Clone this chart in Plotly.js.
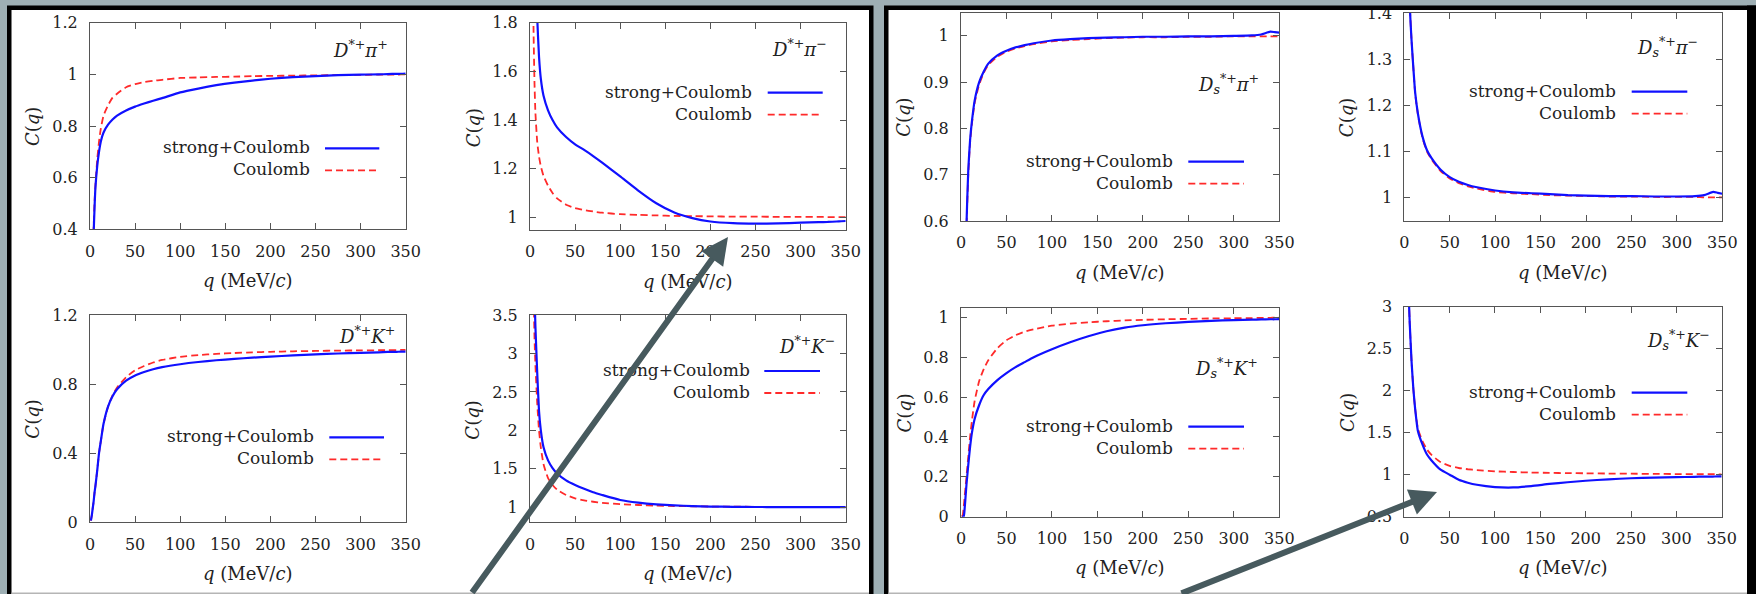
<!DOCTYPE html>
<html><head><meta charset="utf-8">
<script src="https://cdn.plot.ly/plotly-3.0.1.min.js"></script>
<style>
html,body{margin:0;padding:0;background:#9eafb4;}
#chart{width:1756px;height:594px;}
text{font-family:"DejaVu Serif", "Liberation Serif", serif !important;}
</style>
</head><body><div id="chart"></div>
<script>
// ---------- data ----------
const q = [1,2,3,4,5,6,8,10,12,15,20,25,30,40,50,60,70,80,100,120,140,160,180,200,225,250,275,300,320,330,340,345,350];

const xTicks = [0,50,100,150,200,250,300,350];
const xTitle = '<i>q</i> (MeV/<i>c</i>)';
const yTitle = '<i>C</i>(<i>q</i>)';
const seriesNames = ['strong+Coulomb', 'Coulomb'];
const channels = ['<i>D</i><sup>*+</sup><i>π</i><sup>+</sup>', '<i>D</i><sup>*+</sup><i>π</i><sup>−</sup>',
                  '<i>D</i><sup>*+</sup><i>K</i><sup>+</sup>', '<i>D</i><sup>*+</sup><i>K</i><sup>−</sup>',
                  '<i>D</i><sub><i>s</i></sub><sup>*+</sup><i>π</i><sup>+</sup>', '<i>D</i><sub><i>s</i></sub><sup>*+</sup><i>π</i><sup>−</sup>',
                  '<i>D</i><sub><i>s</i></sub><sup>*+</sup><i>K</i><sup>+</sup>', '<i>D</i><sub><i>s</i></sub><sup>*+</sup><i>K</i><sup>−</sup>'];

// D*+ pi+
const dPiPlusStrong = [0.0,0.05,0.25,0.38,0.48,0.56,0.645,0.70,0.74,0.775,0.805,0.825,0.84,0.86,0.875,0.887,0.898,0.908,0.93,0.945,0.958,0.968,0.976,0.983,0.989,0.993,0.997,0.999,1.0,1.001,1.002,1.002,1.003];
const dPiPlusCoul   = [0.0,0.05,0.25,0.40,0.50,0.57,0.67,0.74,0.79,0.84,0.88,0.91,0.925,0.95,0.962,0.97,0.975,0.979,0.986,0.988,0.99,0.991,0.993,0.994,0.995,0.996,0.997,0.998,0.999,0.999,0.999,1.0,1.0];
// D*+ pi-
const dPiMinusStrong = [4.0,3.5,3.0,2.6,2.3,2.05,1.82,1.66,1.57,1.50,1.44,1.40,1.37,1.33,1.30,1.277,1.252,1.225,1.168,1.11,1.058,1.02,0.997,0.983,0.976,0.974,0.975,0.978,0.98,0.981,0.983,0.984,0.985];
const dPiMinusCoul   = [4.5,2.8,2.1,1.75,1.55,1.43,1.31,1.25,1.21,1.17,1.13,1.10,1.078,1.052,1.038,1.03,1.024,1.019,1.013,1.01,1.008,1.006,1.005,1.004,1.003,1.003,1.002,1.002,1.002,1.001,1.001,1.001,1.001];
// D*+ K+
const dKPlusStrong = [0.01,0.04,0.08,0.12,0.17,0.21,0.30,0.40,0.47,0.57,0.67,0.73,0.77,0.82,0.85,0.87,0.886,0.898,0.915,0.928,0.938,0.946,0.953,0.959,0.966,0.972,0.977,0.981,0.984,0.986,0.987,0.988,0.988];
const dKPlusCoul   = [0.01,0.04,0.08,0.12,0.17,0.21,0.30,0.40,0.47,0.57,0.67,0.735,0.78,0.84,0.88,0.905,0.925,0.94,0.958,0.968,0.975,0.98,0.984,0.987,0.99,0.992,0.994,0.995,0.996,0.997,0.997,0.998,0.998];
// D*+ K-
const dKMinusStrong = [15,9,6,4.6,3.8,3.35,2.75,2.25,2.0,1.78,1.61,1.51,1.44,1.35,1.29,1.24,1.195,1.16,1.095,1.06,1.038,1.025,1.016,1.01,1.006,1.004,1.003,1.002,1.002,1.001,1.001,1.001,1.001];
const dKMinusCoul   = [15,8,5,3.8,3.2,2.85,2.35,2.0,1.78,1.56,1.38,1.29,1.23,1.16,1.117,1.09,1.072,1.058,1.04,1.03,1.022,1.017,1.013,1.01,1.008,1.006,1.005,1.004,1.004,1.003,1.003,1.003,1.003];
// Ds*+ pi+
const dsPiPlusStrong = [0.0,0.0,0.05,0.2,0.4,0.59,0.71,0.775,0.815,0.86,0.9,0.923,0.94,0.958,0.968,0.975,0.98,0.984,0.99,0.993,0.995,0.996,0.997,0.998,0.998,0.999,0.999,1.0,1.001,1.003,1.009,1.008,1.007];
const dsPiPlusCoul   = [0.0,0.0,0.05,0.2,0.4,0.58,0.70,0.77,0.81,0.855,0.895,0.92,0.937,0.955,0.966,0.973,0.978,0.982,0.988,0.991,0.993,0.995,0.996,0.997,0.997,0.998,0.998,0.999,0.999,0.999,0.999,0.999,0.999];
// Ds*+ pi-
const dsPiMinusStrong = [5,3,2.2,1.8,1.6,1.42,1.34,1.28,1.227,1.182,1.133,1.103,1.086,1.061,1.045,1.035,1.028,1.023,1.016,1.012,1.01,1.008,1.006,1.005,1.004,1.004,1.003,1.003,1.004,1.006,1.013,1.011,1.009];
const dsPiMinusCoul   = [5,3,2.2,1.8,1.6,1.42,1.34,1.28,1.225,1.18,1.13,1.10,1.083,1.058,1.042,1.032,1.025,1.02,1.013,1.01,1.008,1.006,1.005,1.004,1.003,1.003,1.002,1.002,1.002,1.001,1.001,1.001,1.001];
// Ds*+ K+
const dsKPlusStrong = [0,0,0,0.04,0.1,0.16,0.26,0.35,0.42,0.49,0.56,0.61,0.64,0.685,0.72,0.75,0.775,0.80,0.84,0.875,0.905,0.93,0.948,0.96,0.97,0.977,0.982,0.986,0.988,0.989,0.99,0.99,0.991];
const dsKPlusCoul   = [0,0.01,0.05,0.1,0.15,0.2,0.30,0.40,0.48,0.58,0.68,0.74,0.785,0.845,0.885,0.91,0.928,0.94,0.958,0.968,0.975,0.98,0.984,0.987,0.99,0.992,0.994,0.995,0.996,0.997,0.997,0.998,0.998];
// Ds*+ K-
const dsKMinusStrong = [12,7,4.5,3.6,3.1,2.8,2.35,2.02,1.78,1.52,1.36,1.24,1.17,1.06,1.0,0.94,0.905,0.88,0.853,0.848,0.865,0.89,0.91,0.928,0.945,0.958,0.965,0.971,0.975,0.977,0.978,0.979,0.98];
const dsKMinusCoul   = [12,7,4.5,3.6,3.1,2.8,2.35,2.02,1.78,1.55,1.40,1.30,1.235,1.15,1.105,1.08,1.065,1.055,1.04,1.032,1.026,1.022,1.019,1.017,1.014,1.012,1.01,1.008,1.007,1.006,1.006,1.005,1.005];

const strongSeries = [dPiPlusStrong, dPiMinusStrong, dKPlusStrong, dKMinusStrong, dsPiPlusStrong, dsPiMinusStrong, dsKPlusStrong, dsKMinusStrong];
const coulSeries   = [dPiPlusCoul, dPiMinusCoul, dKPlusCoul, dKMinusCoul, dsPiPlusCoul, dsPiMinusCoul, dsKPlusCoul, dsKMinusCoul];

// ---------- layout geometry (pixels) ----------
const W = 1756, H = 594;
const PX = v => v / W, PY = v => 1 - v / H;
const panels = [
  {x0:90,   x1:405.7,  y0:22.7,  y1:229.3, yr:[0.4,1.2],    dt:0.2, leg:[311.7,148.3,325,379.3], lab:[390,49]},
  {x0:530,  x1:845.7,  y0:22.7,  y1:230,   yr:[0.948,1.8],  dt:0.2, leg:[754,92.7,767.7,822.7],  lab:[829.3,48.3]},
  {x0:90,   x1:405.7,  y0:315,   y1:522.3, yr:[0,1.2],      dt:0.4, leg:[315.7,437.3,329.3,384], lab:[397.3,335]},
  {x0:530,  x1:845.7,  y0:315,   y1:522.3, yr:[0.805,3.5],  dt:0.5, leg:[751.7,371,764.3,820],   lab:[837.3,345]},
  {x0:961,  x1:1279.3, y0:12.7,  y1:221,   yr:[0.6,1.05],   dt:0.1, leg:[1175,161.7,1188.3,1244], lab:[1260.7,84]},
  {x0:1404.3,x1:1722.3,y0:12.7,  y1:221,   yr:[0.95,1.4005],dt:0.1, leg:[1618.3,91.7,1631.7,1687.3], lab:[1700,46.7]},
  {x0:961,  x1:1279.3, y0:308.3, y1:516.7, yr:[0,1.045],    dt:0.2, leg:[1175,426.7,1188.3,1244], lab:[1260,368]},
  {x0:1404.3,x1:1721.7,y0:306.7, y1:516.7, yr:[0.5,3.0005], dt:0.5, leg:[1618.3,392.7,1631.7,1687.3], lab:[1711.7,340]}
];

const FONT = '"DejaVu Serif", "Liberation Serif", serif';
const TXT = '#222';
const BLUE = '#1010ff', RED = '#ff2a2a';
const traces = [];
const layout = {
  width: W, height: H, margin: {l:0, r:0, t:0, b:0},
  paper_bgcolor: '#9eafb4', plot_bgcolor: 'white', showlegend: false,
  font: {family: FONT, size: 17, color: TXT},
  shapes: [], annotations: []
};

// panels background / borders
layout.shapes.push({type:'rect', xref:'paper', yref:'paper', layer:'below', x0:PX(9), x1:PX(871), y0:PY(8), y1:PY(620), fillcolor:'white', line:{width:0}});
layout.shapes.push({type:'rect', xref:'paper', yref:'paper', layer:'below', x0:PX(886), x1:PX(1752), y0:PY(8), y1:PY(620), fillcolor:'white', line:{width:0}});
layout.shapes.push({type:'rect', xref:'paper', yref:'paper', layer:'above', x0:PX(9.25), x1:PX(871.25), y0:PY(7.75), y1:PY(620), line:{color:'black', width:4.5}});
layout.shapes.push({type:'rect', xref:'paper', yref:'paper', layer:'above', x0:PX(886.25), x1:PX(1770), y0:PY(7.75), y1:PY(620), line:{color:'black', width:4.5}});
layout.shapes.push({type:'rect', xref:'paper', yref:'paper', layer:'above', x0:PX(1747), x1:PX(1760), y0:PY(5.5), y1:PY(620), fillcolor:'black', line:{width:0}});
layout.shapes.push({type:'line', xref:'paper', yref:'paper', layer:'above', x0:PX(11.5), x1:PX(869), y0:PY(593.2), y1:PY(593.2), line:{color:'#b5b5b5', width:1.5}});
layout.shapes.push({type:'line', xref:'paper', yref:'paper', layer:'above', x0:PX(888.5), x1:PX(1747), y0:PY(593.2), y1:PY(593.2), line:{color:'#b5b5b5', width:1.5}});

panels.forEach((p, i) => {
  const n = i === 0 ? '' : String(i + 1);
  const xa = 'x' + n, ya = 'y' + n;
  traces.push({x: q, y: coulSeries[i], xaxis: xa, yaxis: ya, type: 'scatter', mode: 'lines', name: seriesNames[1],
               line: {color: RED, width: 1.8, dash: '7px,4px', shape: 'spline', smoothing: 0.5}, hoverinfo: 'x+y'});
  traces.push({x: q, y: strongSeries[i], xaxis: xa, yaxis: ya, type: 'scatter', mode: 'lines', name: seriesNames[0],
               line: {color: BLUE, width: 2.2, shape: 'spline', smoothing: 0.5}, hoverinfo: 'x+y'});
  const common = {showline: true, linecolor: '#555', linewidth: 1, mirror: 'ticks', ticks: 'inside', ticklen: 6,
                  tickcolor: '#555', showgrid: false, zeroline: false, tickfont: {family: FONT, size: 16, color: TXT}};
  layout['xaxis' + n] = Object.assign({}, common, {
    domain: [PX(p.x0), PX(p.x1)], anchor: ya, range: [0, 350], tickvals: xTicks, ticklabelstandoff: 7
  });
  layout['yaxis' + n] = Object.assign({}, common, {
    domain: [PY(p.y1), PY(p.y0)], anchor: xa, range: p.yr, dtick: p.dt, tick0: 0, ticklabelstandoff: 8
  });
  // axis titles
  layout.annotations.push({xref:'paper', yref:'paper', x: PX((p.x0 + p.x1) / 2), y: PY(p.y1 + 51), xanchor:'center', yanchor:'middle',
                           showarrow:false, text: xTitle, font:{family: FONT, size: 18, color: TXT}});
  layout.annotations.push({xref:'paper', yref:'paper', x: PX(p.x0 - 57), y: PY((p.y0 + p.y1) / 2 + 1), xanchor:'center', yanchor:'middle',
                           showarrow:false, textangle: -90, text: yTitle, font:{family: FONT, size: 18, color: TXT}});
  // legend (text right-aligned, sample on the right)
  const [tx, ty, lx0, lx1] = p.leg;
  const y1 = ty - 1, y2 = ty + 21;
  layout.annotations.push({xref:'paper', yref:'paper', x: PX(tx), y: PY(y1), xanchor:'right', yanchor:'middle', showarrow:false,
                           text: seriesNames[0], font:{family: FONT, size: 17, color: TXT}});
  layout.annotations.push({xref:'paper', yref:'paper', x: PX(tx), y: PY(y2), xanchor:'right', yanchor:'middle', showarrow:false,
                           text: seriesNames[1], font:{family: FONT, size: 17, color: TXT}});
  layout.shapes.push({type:'line', xref:'paper', yref:'paper', x0: PX(lx0), x1: PX(lx1), y0: PY(y1 + 1), y1: PY(y1 + 1), line:{color: BLUE, width: 2.2}});
  layout.shapes.push({type:'line', xref:'paper', yref:'paper', x0: PX(lx0), x1: PX(lx1), y0: PY(y2 + 1), y1: PY(y2 + 1), line:{color: RED, width: 1.8, dash: '7px,4px'}});
  // channel label
  layout.annotations.push({xref:'paper', yref:'paper', x: PX(p.lab[0]), y: PY(p.lab[1]), xanchor:'right', yanchor:'middle', showarrow:false,
                           text: channels[i], font:{family: FONT, size: 18, color: TXT}});
});

// overlay arrows
const ARROW = '#475a5e';
layout.annotations.push({xref:'paper', yref:'paper', x: PX(728), y: PY(237), ax: -257, ay: 383, text: '', showarrow: true,
                         arrowhead: 2, arrowsize: 0.9, arrowwidth: 6, arrowcolor: ARROW});
layout.annotations.push({xref:'paper', yref:'paper', x: PX(1437), y: PY(492), ax: -257, ay: 118, text: '', showarrow: true,
                         arrowhead: 2, arrowsize: 0.9, arrowwidth: 6, arrowcolor: ARROW});

Plotly.newPlot('chart', traces, layout, {staticPlot: true, displayModeBar: false});
</script></body></html>
